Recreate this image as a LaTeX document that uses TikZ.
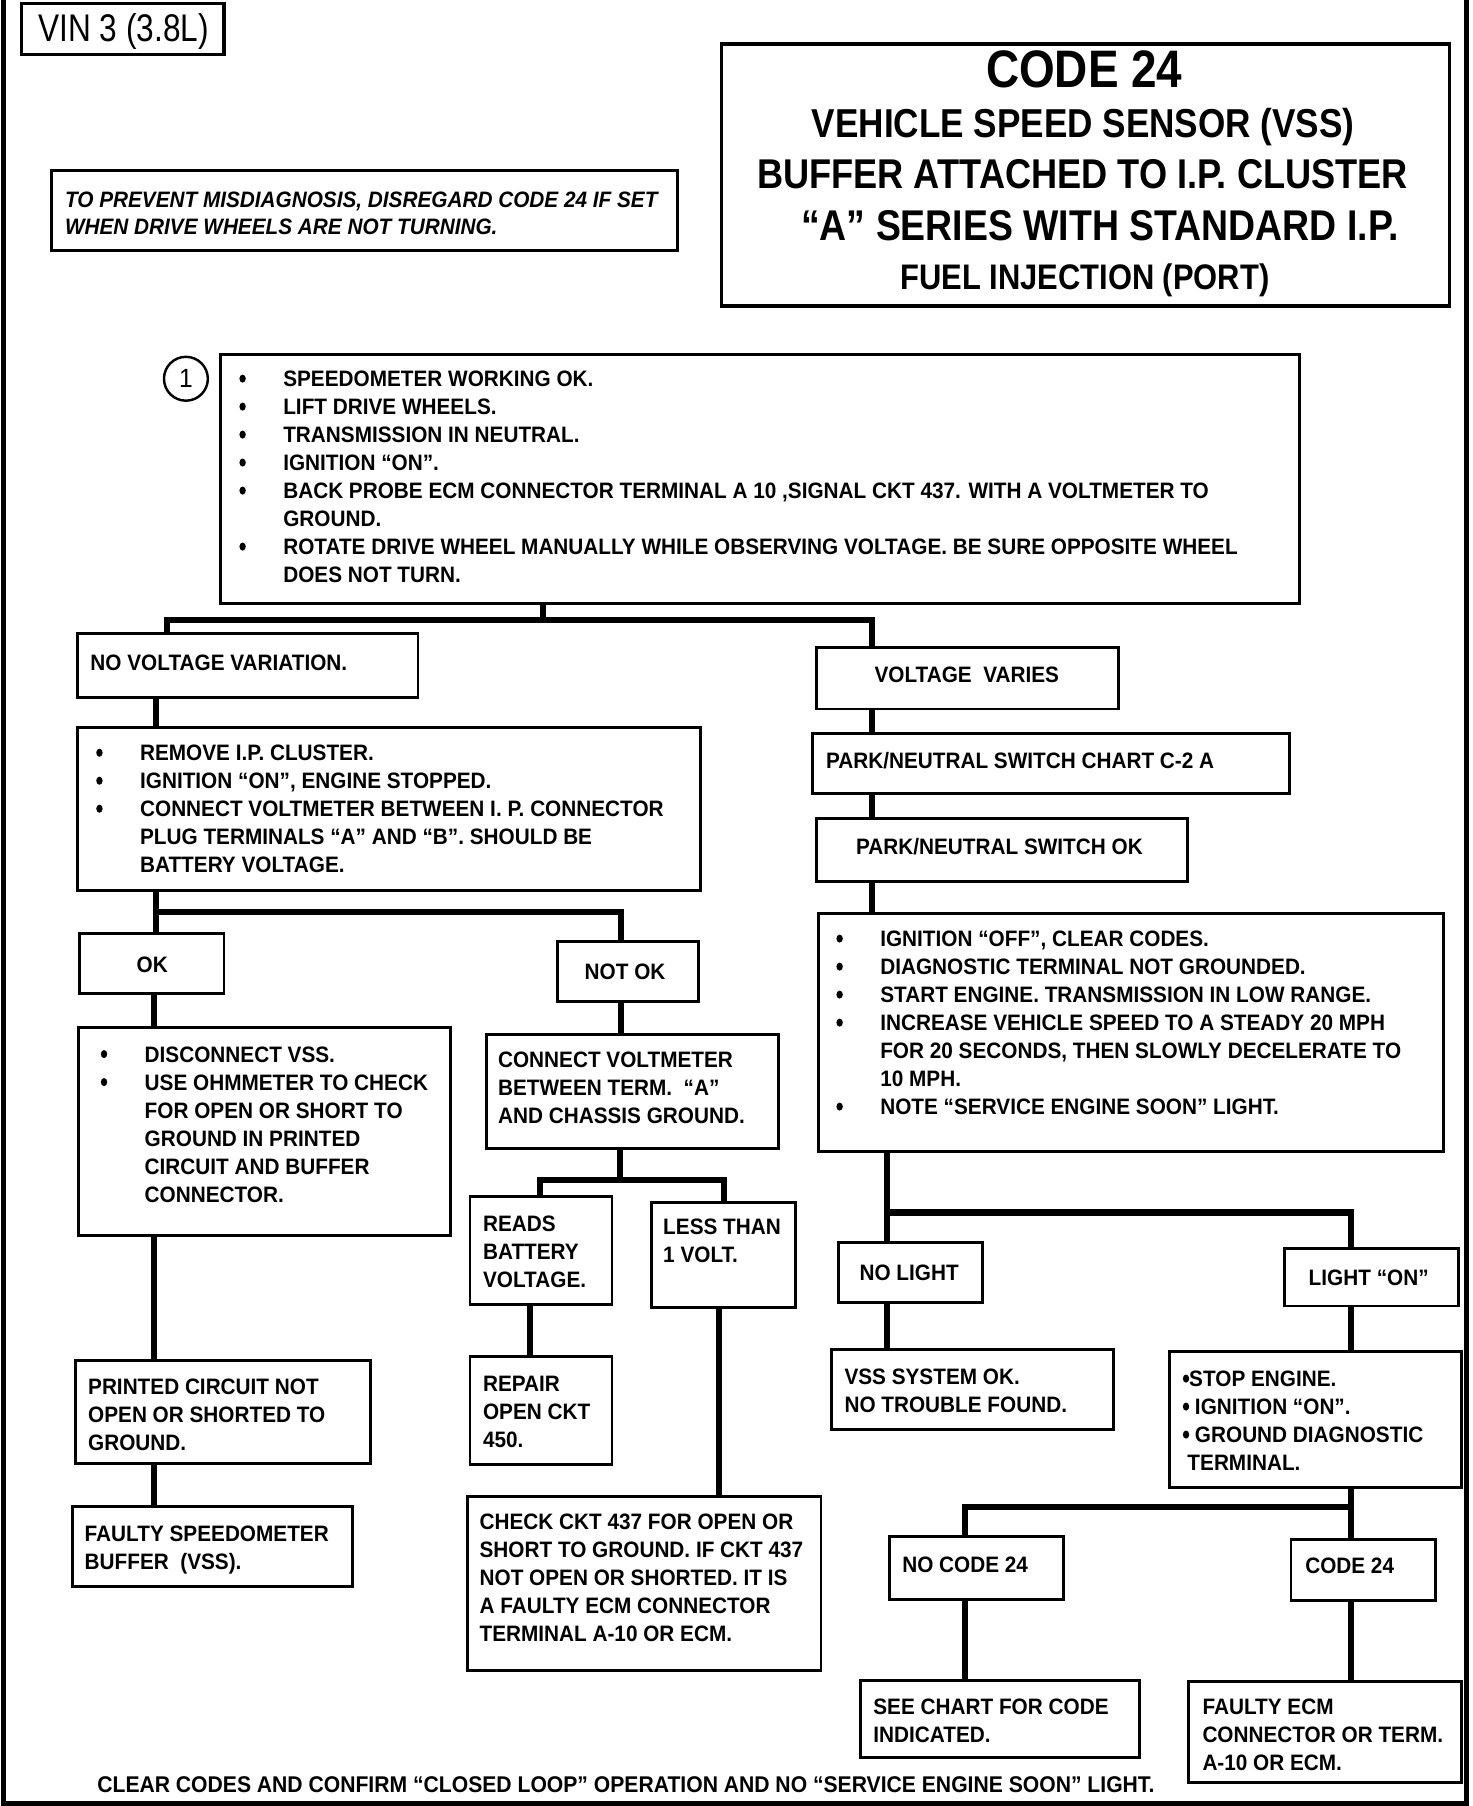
\documentclass[tikz,border=0pt]{standalone}
\usepackage{fontspec}
\setmainfont{Liberation Sans}[FakeStretch=0.93]
\newfontfamily\headfont{Liberation Sans}[FakeStretch=0.87]
\newfontfamily\vinfont{Liberation Sans}[FakeStretch=0.82]

\newcommand{\dotmark}{\raisebox{0.07cm}{\tikz\fill (0,0) ellipse (0.055cm and 0.07cm);}}
\newcommand{\bul}{\makebox[0.76cm][l]{\dotmark}}
\newcommand{\ind}{\hspace*{0.76cm}}
% [text style]{name}{x1}{y1}{x2}{y2}{text x}{first line y}{text}
\newcommand{\chartbox}[9][]{%
  \node[frame, minimum width={(#5-#3)*0.02cm}, minimum height={(#6-#4)*0.02cm}]
    (#2) at ({(#3+#5)/2},{(#4+#6)/2}) {};
  \node[txt, #1] (#2-t) at (#7,{#8-7}) {#9};}

\tikzset{
  frame/.style={draw, line width=1.45pt, inner sep=0pt, outer sep=0pt},
  txt/.style={anchor=north west, inner sep=0pt, align=left,
    font=\bfseries\fontsize{11}{13.8}\selectfont},
  link/.style={line width=3pt},
  border/.style={line width=2.2pt},
  headline/.style={anchor=base, inner sep=0pt,
    font=\headfont\bfseries\fontsize{20.5}{24}\selectfont},
}

\begin{document}
\begin{tikzpicture}[x=0.02cm, y=-0.02cm]
\useasboundingbox (0,0) rectangle (1275,1564);
\draw[border] (3,0) -- (3,1562) -- (1270,1562) -- (1270,0);

% header
\node[frame, line width=1.5pt, minimum width=3.5cm, minimum height=0.88cm] (vin) at (106.5,25) {};
\node[anchor=base, inner sep=0pt, font=\vinfont\fontsize{19}{19}\selectfont] (vin-t) at (107,36) {VIN 3 (3.8L)};

\chartbox[font=\bfseries\itshape\fontsize{11}{13.1}\selectfont]{note}{45}{148}{587}{217}{56}{173}{%
  TO PREVENT MISDIAGNOSIS, DISREGARD CODE 24 IF SET\\
  WHEN DRIVE WHEELS ARE NOT TURNING.}

\node[frame, line width=1.6pt, minimum width=12.6cm, minimum height=4.54cm] (title) at (940,151.5) {};
\node[headline, font=\headfont\bfseries\fontsize{26}{30}\selectfont] (title-a) at (939,76) {CODE 24};
\node[headline, font=\headfont\bfseries\fontsize{19.9}{24}\selectfont] (title-b) at (938,119) {VEHICLE SPEED SENSOR (VSS)};
\node[headline] (title-c) at (937.5,163) {BUFFER ATTACHED TO I.P. CLUSTER};
\node[headline, font=\headfont\bfseries\fontsize{21.2}{24}\selectfont] (title-d) at (952.5,208) {“A” SERIES WITH STANDARD I.P.};
\node[headline, font=\headfont\bfseries\fontsize{17.5}{20}\selectfont] (title-e) at (939.5,251) {FUEL INJECTION (PORT)};

\node[draw, circle, line width=1.2pt, minimum size=0.76cm, inner sep=0pt,
  font=\fontsize{13}{13}\selectfont] (step1) at (161,328) {1};

% boxes
\chartbox{speedo}{191}{307}{1125}{523}{207}{328}{%
  \bul SPEEDOMETER WORKING OK.\\
  \bul LIFT DRIVE WHEELS.\\
  \bul TRANSMISSION IN NEUTRAL.\\
  \bul IGNITION “ON”.\\
  \bul BACK PROBE ECM CONNECTOR TERMINAL A 10 ,SIGNAL CKT 437. WITH A VOLTMETER TO\\
  \ind GROUND.\\
  \bul ROTATE DRIVE WHEEL MANUALLY WHILE OBSERVING VOLTAGE. BE SURE OPPOSITE WHEEL\\
  \ind DOES NOT TURN.}
\chartbox{nvv}{67}{549}{362}{604}{78}{574}{NO VOLTAGE VARIATION.}
\chartbox{cluster}{67}{630}{607}{771}{83}{652}{%
  \bul REMOVE I.P. CLUSTER.\\
  \bul IGNITION “ON”, ENGINE STOPPED.\\
  \bul CONNECT VOLTMETER BETWEEN I. P. CONNECTOR\\
  \ind PLUG TERMINALS “A” AND “B”. SHOULD BE\\
  \ind BATTERY VOLTAGE.}
\chartbox{ok}{69}{808}{194}{860}{118}{835}{OK}
\chartbox{notok}{483}{815}{605}{867}{506}{841}{NOT OK}
\chartbox{vssdisc}{68}{890}{390}{1070}{87}{913}{%
  \bul DISCONNECT VSS.\\
  \bul USE OHMMETER TO CHECK\\
  \ind FOR OPEN OR SHORT TO\\
  \ind GROUND IN PRINTED\\
  \ind CIRCUIT AND BUFFER\\
  \ind CONNECTOR.}
\chartbox{pcok}{65}{1178}{321}{1267}{76}{1201}{%
  PRINTED CIRCUIT NOT\\ OPEN OR SHORTED TO\\ GROUND.}
\chartbox{buffer}{63}{1305}{305}{1374}{73}{1328}{%
  FAULTY SPEEDOMETER\\ BUFFER\ \ (VSS).}
\chartbox{chassis}{421}{896}{674}{995}{431}{918}{%
  CONNECT VOLTMETER\\ BETWEEN TERM.\ \ “A”\\ AND CHASSIS GROUND.}
\chartbox{battv}{407}{1036}{530}{1130}{418}{1060}{READS\\ BATTERY\\ VOLTAGE.}
\chartbox{lowv}{564}{1041}{689}{1132}{574}{1062}{LESS THAN\\ 1 VOLT.}
\chartbox{repair}{407}{1175}{530}{1268}{418}{1198}{REPAIR\\ OPEN CKT\\ 450.}
\chartbox{ckt}{405}{1296}{711}{1447}{415}{1318}{%
  CHECK CKT 437 FOR OPEN OR\\
  SHORT TO GROUND. IF CKT 437\\
  NOT OPEN OR SHORTED. IT IS\\
  A FAULTY ECM CONNECTOR\\
  TERMINAL A-10 OR ECM.}
\chartbox{vv}{707}{561}{969}{614}{757}{584}{VOLTAGE\ \ VARIES}
\chartbox{pnchart}{704}{635}{1117}{687}{715}{658}{PARK/NEUTRAL SWITCH CHART C-2 A}
\chartbox{pnok}{707}{709}{1028}{763}{741}{733}{PARK/NEUTRAL SWITCH OK}
\chartbox{roadtest}{709}{791}{1250}{997}{724}{813}{%
  \bul IGNITION “OFF”, CLEAR CODES.\\
  \bul DIAGNOSTIC TERMINAL NOT GROUNDED.\\
  \bul START ENGINE. TRANSMISSION IN LOW RANGE.\\
  \bul INCREASE VEHICLE SPEED TO A STEADY 20 MPH\\
  \ind FOR 20 SECONDS, THEN SLOWLY DECELERATE TO\\
  \ind 10 MPH.\\
  \bul NOTE “SERVICE ENGINE SOON” LIGHT.}
\chartbox{nolight}{726}{1076}{851}{1128}{744}{1102}{NO LIGHT}
\chartbox{light}{1112}{1081}{1263}{1131}{1133}{1106}{LIGHT “ON”}
\chartbox{vssok}{720}{1169}{964}{1238}{731}{1192}{VSS SYSTEM OK.\\ NO TROUBLE FOUND.}
\chartbox{stop}{1013}{1170}{1266}{1288}{1024}{1194}{%
  \dotmark STOP ENGINE.\\
  \dotmark\ IGNITION “ON”.\\
  \dotmark\ GROUND DIAGNOSTIC\\
  \hspace*{0.08cm}TERMINAL.}
\chartbox{nocode}{770}{1331}{921}{1385}{781}{1355}{NO CODE 24}
\chartbox{code}{1118}{1333}{1243}{1386}{1130}{1356}{CODE 24}
\chartbox{seechart}{745}{1455}{987}{1522}{756}{1478}{SEE CHART FOR CODE\\ INDICATED.}
\chartbox{ecm}{1029}{1456}{1266}{1544}{1041}{1478}{FAULTY ECM\\ CONNECTOR OR TERM.\\ A-10 OR ECM.}

\node[anchor=base, inner sep=0pt, font=\bfseries\fontsize{11.2}{13}\selectfont] (footer) at (542,1552)
  {CLEAR CODES AND CONFIRM “CLOSED LOOP” OPERATION AND NO “SERVICE ENGINE SOON” LIGHT.};

% connectors
\coordinate (j1m) at (470,537);
\coordinate (j1l) at (145,537);
\coordinate (j1r) at (755,537);
\draw[link] (speedo.south -| j1m) -- (j1m);
\draw[link] (nvv.north -| j1l) -- (j1l) -- (j1r) -- (vv.north -| j1r);
\draw[link] (nvv.south -| 135,0) -- (cluster.north -| 135,0);

\coordinate (j2l) at (135,790);
\coordinate (j2r) at (538,790);
\draw[link] (cluster.south -| j2l) -- (ok.north -| j2l);
\draw[link] (j2l) -- (j2r) -- (notok.north -| j2r);
\draw[link] (ok.south -| 133,0) -- (vssdisc.north -| 133,0);
\draw[link] (vssdisc.south -| 133,0) -- (pcok.north -| 133,0);
\draw[link] (pcok.south -| 133,0) -- (buffer.north -| 133,0);
\draw[link] (notok.south -| 538,0) -- (chassis.north -| 538,0);

\coordinate (j3m) at (537,1022);
\coordinate (j3l) at (468,1022);
\coordinate (j3r) at (627,1022);
\draw[link] (chassis.south -| j3m) -- (j3m);
\draw[link] (battv.north -| j3l) -- (j3l) -- (j3r) -- (lowv.north -| j3r);
\draw[link] (battv.south -| 459,0) -- (repair.north -| 459,0);
\draw[link] (lowv.south -| 623,0) -- (ckt.north -| 623,0);

\draw[link] (vv.south -| 755,0) -- (pnchart.north -| 755,0);
\draw[link] (pnchart.south -| 755,0) -- (pnok.north -| 755,0);
\draw[link] (pnok.south -| 755,0) -- (roadtest.north -| 755,0);

\coordinate (j4l) at (768,1050);
\coordinate (j4r) at (1170,1050);
\draw[link] (roadtest.south -| j4l) -- (nolight.north -| j4l);
\draw[link] (j4l) -- (j4r) -- (light.north -| j4r);
\draw[link] (nolight.south -| j4l) -- (vssok.north -| j4l);
\draw[link] (light.south -| j4r) -- (stop.north -| j4r);

\coordinate (j5l) at (836,1305);
\coordinate (j5r) at (1170,1305);
\draw[link] (stop.south -| j5r) -- (code.north -| j5r);
\draw[link] (j5r) -- (j5l) -- (nocode.north -| j5l);
\draw[link] (nocode.south -| j5l) -- (seechart.north -| j5l);
\draw[link] (code.south -| j5r) -- (ecm.north -| j5r);
\end{tikzpicture}
\end{document}
